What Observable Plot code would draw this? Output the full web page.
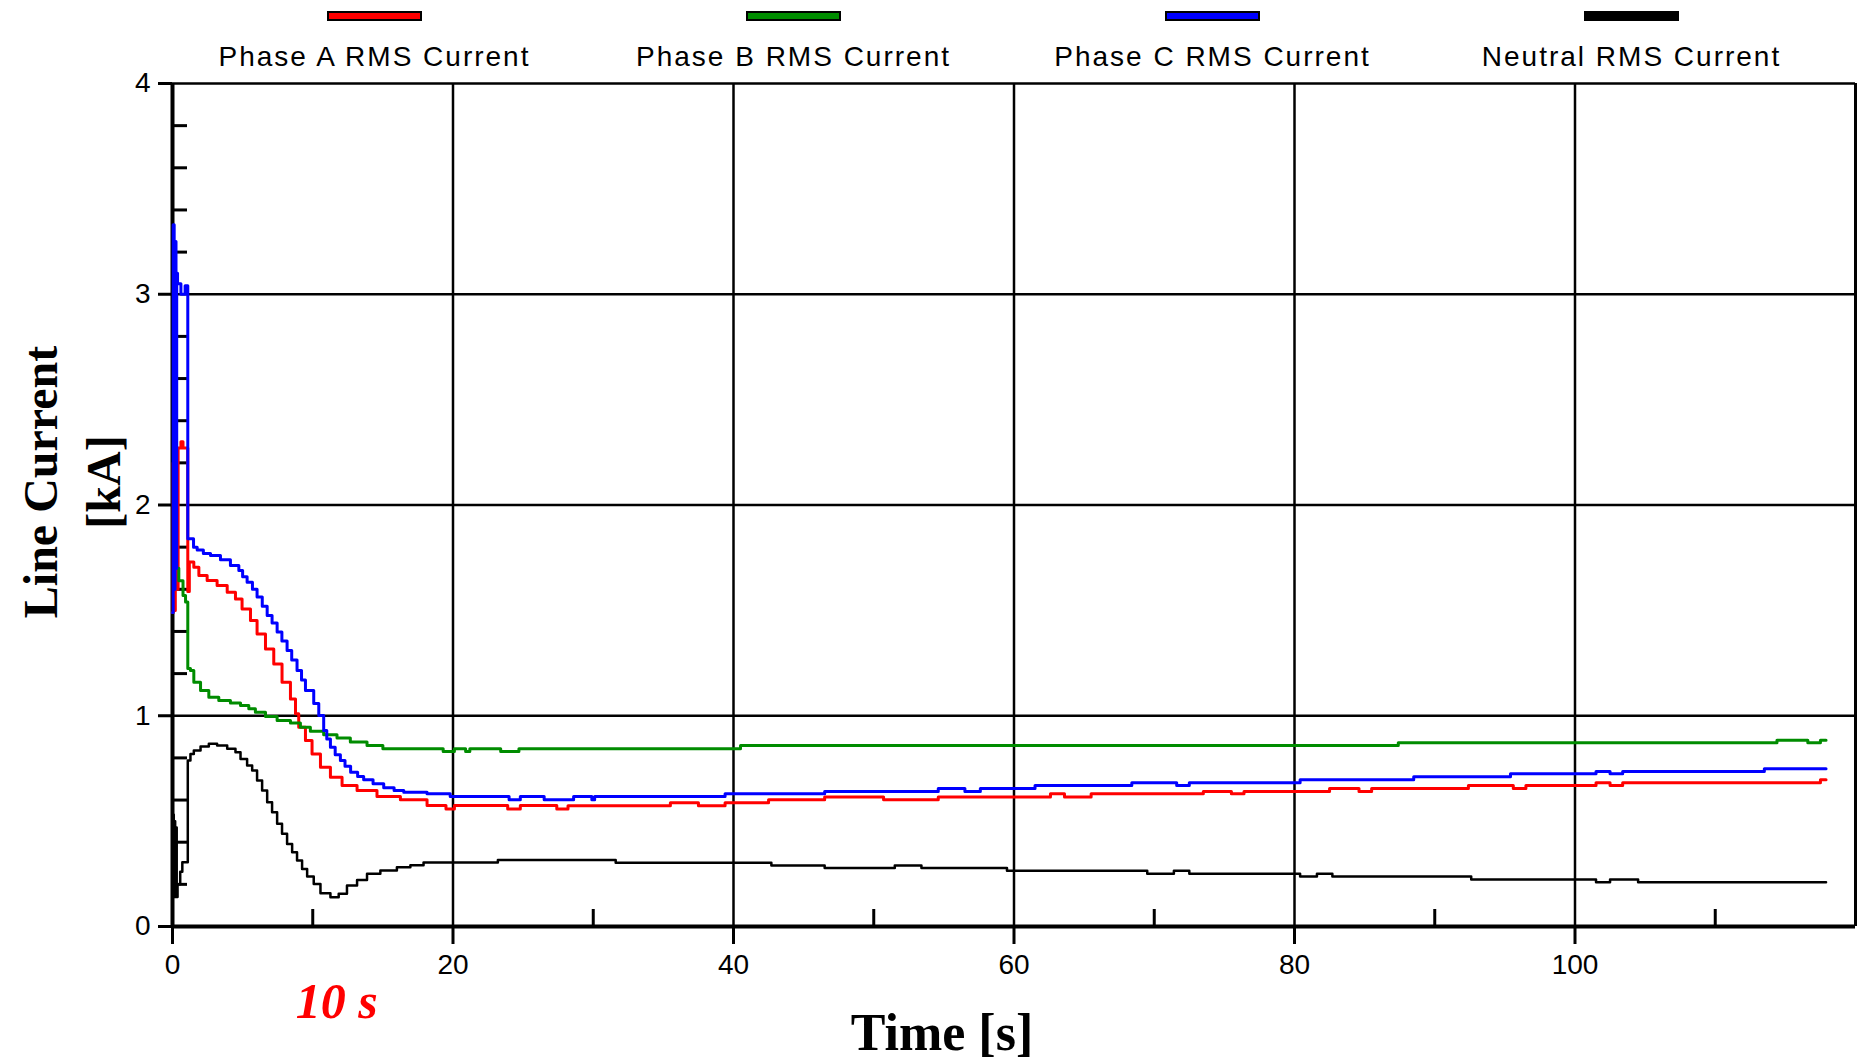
<!DOCTYPE html>
<html>
<head>
<meta charset="utf-8">
<script src="https://cdn.jsdelivr.net/npm/d3@7"></script>
<script src="https://cdn.jsdelivr.net/npm/@observablehq/plot@0.6"></script>
<style>
  html, body { margin: 0; padding: 0; background: #fff; }
  body { width: 1861px; height: 1060px; overflow: hidden; }
  #legend { position: relative; width: 1861px; height: 70px; font-family: "Liberation Sans", Arial, sans-serif; }
  .item { position: absolute; top: 0; width: 419px; height: 70px; }
  .sw { position: absolute; top: 11px; left: 162px; width: 91px; height: 6px; border: 2px solid #000; }
  .lab { position: absolute; top: 38px; left: 0; width: 100%; text-align: center; font-size: 28px; line-height: 38px; letter-spacing: 2px; color: #000; white-space: nowrap; }
  #chart svg { display: block; }
</style>
</head>
<body>
<div id="legend"></div>
<div id="chart"></div>
<script>
// ---------- data ----------
const seriesNames  = ["Phase A RMS Current", "Phase B RMS Current", "Phase C RMS Current", "Neutral RMS Current"];
const seriesColors = ["#ff0000", "#008c00", "#0000ff", "#000000"];

// [time s, current kA] breakpoints (held until next point)
const phaseA = [
  [0,1.49],[0.05,2.2],[0.1,1.5],[0.2,2.2],[0.3,1.6],[0.4,2.27],[0.6,2.3],[0.75,2.27],
  [1.09,1.59],[1.2,1.73],[1.52,1.705],[1.88,1.665],[2.47,1.642],[3.18,1.618],[3.9,1.586],
  [4.49,1.554],[4.96,1.507],[5.56,1.452],[6.03,1.388],[6.63,1.317],[7.22,1.246],[7.81,1.159],
  [8.41,1.08],[8.77,1.009],[9.0,0.946],[9.48,0.883],[9.95,0.819],[10.55,0.756],[11.26,0.708],
  [12.09,0.669],[13.16,0.645],[14.58,0.617],[16.25,0.601],[18.15,0.574],[19.5,0.558],[20.1,0.574],
  [23.9,0.558],[24.8,0.574],[27.4,0.558],[28.2,0.573],[35.5,0.587],[37.5,0.573],[39.4,0.587],
  [42.5,0.601],[46.5,0.615],[50.7,0.601],[54.6,0.615],[62.6,0.63],[63.6,0.615],[65.5,0.63],
  [73.5,0.641],[75.5,0.63],[76.4,0.641],[82.5,0.655],[84.6,0.641],[85.5,0.655],[92.4,0.669],
  [95.6,0.655],[96.5,0.669],[101.5,0.682],[102.5,0.669],[103.4,0.682],[117.5,0.696],[117.9,0.696]
];
const phaseB = [
  [0.3,1.70],[0.45,1.64],[0.75,1.57],[0.93,1.54],[1.09,1.224],[1.28,1.215],[1.52,1.159],[2.0,1.12],
  [2.59,1.088],[3.3,1.072],[4.13,1.061],[4.85,1.049],[5.44,1.033],[5.91,1.017],[6.63,0.996],
  [7.46,0.977],[8.41,0.966],[9.12,0.946],[9.83,0.927],[10.78,0.91],[11.73,0.895],[12.68,0.875],
  [13.87,0.859],[15.0,0.843],[19.3,0.83],[20.1,0.843],[20.9,0.83],[21.2,0.843],[23.4,0.83],
  [24.7,0.843],[40.5,0.859],[87.4,0.872],[114.4,0.884],[116.6,0.872],[117.5,0.884],[117.9,0.884]
];
const phaseC = [
  [0,1.49],[0.05,3.33],[0.12,1.6],[0.18,3.25],[0.25,1.7],[0.3,3.1],[0.36,3.05],[0.6,3.0],[0.9,3.04],
  [1.09,1.84],[1.5,1.80],[1.76,1.787],[2.2,1.77],[2.71,1.76],[3.42,1.74],[4.13,1.713],[4.73,1.689],
  [5.0,1.66],[5.32,1.634],[5.7,1.60],[6.03,1.563],[6.4,1.52],[6.75,1.476],[7.1,1.44],[7.46,1.397],
  [7.8,1.355],[8.17,1.31],[8.5,1.265],[8.88,1.215],[9.2,1.17],[9.48,1.12],[10.07,1.058],[10.43,1.001],
  [10.78,0.93],[11.0,0.89],[11.26,0.851],[11.6,0.815],[11.97,0.788],[12.3,0.76],[12.7,0.732],
  [13.2,0.712],[13.63,0.696],[14.3,0.677],[15.06,0.658],[15.8,0.645],[16.49,0.637],[18.15,0.63],
  [19.8,0.617],[24.0,0.601],[24.8,0.617],[26.5,0.601],[28.6,0.617],[29.9,0.601],[30.1,0.617],
  [39.4,0.63],[46.5,0.641],[54.6,0.655],[56.5,0.641],[57.6,0.655],[61.5,0.669],[68.4,0.682],
  [71.6,0.669],[72.5,0.682],[80.4,0.696],[88.5,0.71],[95.4,0.725],[101.5,0.735],[102.5,0.725],
  [103.4,0.735],[113.5,0.748],[117.9,0.748]
];
const neutral = [
  [0,0.14],[0.04,0.53],[0.09,0.14],[0.14,0.5],[0.19,0.14],[0.24,0.47],[0.3,0.14],[0.36,0.2],
  [0.55,0.26],[0.7,0.305],[1.09,0.788],[1.28,0.819],[1.52,0.835],[2.0,0.854],[2.59,0.867],
  [3.18,0.859],[3.9,0.843],[4.49,0.827],[4.85,0.795],[5.32,0.764],[5.68,0.74],[6.03,0.693],
  [6.39,0.645],[6.75,0.59],[7.1,0.542],[7.46,0.487],[7.81,0.44],[8.17,0.392],[8.53,0.352],
  [8.88,0.313],[9.24,0.273],[9.6,0.237],[10.07,0.202],[10.55,0.158],[11.26,0.139],[11.85,0.155],
  [12.44,0.195],[13.16,0.221],[13.87,0.25],[14.82,0.266],[16.0,0.281],[16.96,0.291],[17.9,0.304],
  [23.2,0.316],[31.6,0.302],[42.7,0.289],[46.5,0.278],[51.5,0.289],[53.4,0.278],[59.5,0.264],
  [69.5,0.25],[71.4,0.264],[72.5,0.25],[80.4,0.237],[81.6,0.25],[82.7,0.237],[92.6,0.223],
  [101.5,0.21],[102.5,0.223],[104.5,0.21],[117.9,0.21]
];

const xMajorTicks = [0, 20, 40, 60, 80, 100];
const xMinorTicks = [10, 30, 50, 70, 90, 110];
const xGrid = [20, 40, 60, 80, 100];
const yMajorTicks = [0, 1, 2, 3, 4];
const yMinorTicks = [0.2,0.4,0.6,0.8,1.2,1.4,1.6,1.8,2.2,2.4,2.6,2.8,3.2,3.4,3.6,3.8];
const yGrid = [1, 2, 3, 4];
const xTitle = "Time [s]";
const yTitle1 = "Line Current";
const yTitle2 = "[kA]";
const annotations = [{t: 10, label: "10 s"}];

// ---------- legend ----------
const legend = document.getElementById("legend");
seriesNames.forEach((name, i) => {
  const it = document.createElement("div");
  it.className = "item";
  it.style.left = (165 + i * 419) + "px";
  const sw = document.createElement("div");
  sw.className = "sw";
  sw.style.background = seriesColors[i];
  const lab = document.createElement("div");
  lab.className = "lab";
  lab.textContent = name;
  it.appendChild(sw); it.appendChild(lab);
  legend.appendChild(it);
});

// ---------- chart ----------
const W = 1861, H = 990, mt = 13, mb = 134, ml = 172, mr = 6;
const plotW = W - ml - mr, plotH = H - mt - mb;
const all = [phaseA, phaseB, phaseC, neutral];
const rows = all.flatMap((s, i) => s.map(([t, v]) => ({t, v, series: seriesNames[i]})));
const serif = "Liberation Serif, Times New Roman, serif";

const chart = Plot.plot({
  width: W, height: H,
  marginTop: mt, marginBottom: mb, marginLeft: ml, marginRight: mr,
  x: {domain: [0, 120]},
  y: {domain: [0, 4]},
  style: {fontFamily: "Liberation Sans, Arial, sans-serif", background: "white", overflow: "visible"},
  marks: [
    Plot.ruleX(xGrid, {stroke: "black", strokeWidth: 2.5}),
    Plot.ruleY(yGrid, {stroke: "black", strokeWidth: 2.5}),
    Plot.ruleX([120], {stroke: "black", strokeWidth: 3}),
    Plot.tickX(xMinorTicks, {stroke: "black", strokeWidth: 3, insetTop: plotH - 17}),
    Plot.tickY(yMinorTicks, {stroke: "black", strokeWidth: 3, insetRight: plotW - 15}),
    Plot.axisX({ticks: xMajorTicks, tickSize: 18, tickPadding: 10, fontSize: 28, label: null, strokeWidth: 3, tickFormat: d => String(d)}),
    Plot.axisY({ticks: yMajorTicks, tickSize: 14, tickPadding: 8, fontSize: 28, label: null, strokeWidth: 3, tickFormat: d => String(d)}),
    Plot.ruleX([0], {stroke: "black", strokeWidth: 4}),
    Plot.ruleY([0], {stroke: "black", strokeWidth: 4}),
    ...seriesNames.map((name, i) => Plot.line(rows.filter(r => r.series === name), {
      x: "t", y: "v", stroke: seriesColors[i], strokeWidth: i === 3 ? 2.5 : 3, curve: "step-after"
    })),
    Plot.text([xTitle], {text: d => d, frameAnchor: "bottom", textAnchor: "middle", dx: -72, dy: 107, lineAnchor: "middle",
      fontFamily: serif, fontWeight: "bold", fontSize: 52, fill: "black"}),
    Plot.text([yTitle1], {text: d => d, frameAnchor: "left", textAnchor: "middle", rotate: -90, dx: -131, dy: -23, lineAnchor: "middle",
      fontFamily: serif, fontWeight: "bold", fontSize: 48, fill: "black"}),
    Plot.text([yTitle2], {text: d => d, frameAnchor: "left", textAnchor: "middle", rotate: -90, dx: -68, dy: -23, lineAnchor: "middle",
      fontFamily: serif, fontWeight: "bold", fontSize: 48, fill: "black"}),
    Plot.text(annotations, {x: "t", text: "label", frameAnchor: "bottom", textAnchor: "middle", dx: 24, dy: 75, lineAnchor: "middle",
      fontFamily: serif, fontWeight: "bold", fontStyle: "italic", fontSize: 50, fill: "#ff0000"})
  ]
});
document.getElementById("chart").appendChild(chart);
</script>
</body>
</html>
